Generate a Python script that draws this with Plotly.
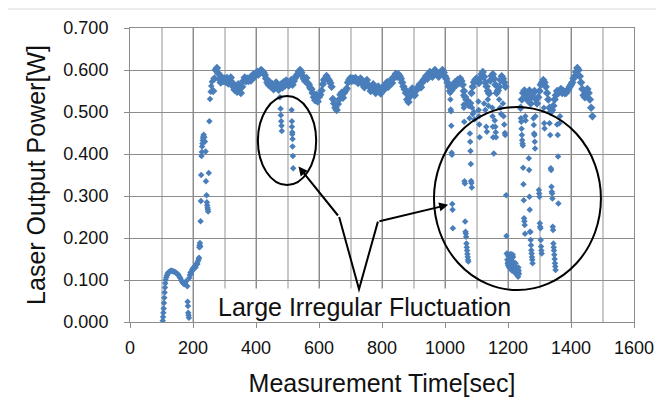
import plotly.graph_objects as go

# ---------------- data ----------------
# Early start-up phase (explicit samples)
EARLY_T = [104, 105, 106, 107, 108, 109, 110, 111, 112, 113, 115, 117, 119, 121, 124, 127, 130, 133,
           136, 139, 142, 145, 148, 151, 154, 157, 160, 163, 166, 169, 172, 175, 178,
           182, 183, 184, 185, 186, 187,
           188, 190, 192, 194, 196, 198, 200, 202, 204, 206, 208, 210, 212, 214, 216, 218, 219,
           220, 221, 222, 223,
           224, 225, 226, 227, 228, 229, 230, 231, 232, 233, 234, 236, 238, 240, 241, 243, 244,
           245, 246, 247, 248, 250, 252, 254, 256, 258, 260]
EARLY_V = [0.003, 0.012, 0.022, 0.032, 0.045, 0.058, 0.070, 0.082, 0.092, 0.100, 0.106, 0.111, 0.114,
           0.117, 0.119, 0.121, 0.122, 0.122, 0.121, 0.120, 0.119, 0.118, 0.116, 0.114, 0.112, 0.108,
           0.104, 0.099, 0.095, 0.092, 0.090, 0.093, 0.097,
           0.085, 0.048, 0.038, 0.022, 0.016, 0.010,
           0.105, 0.112, 0.118, 0.115, 0.120, 0.125, 0.128, 0.126, 0.131, 0.133, 0.130, 0.136, 0.140,
           0.138, 0.145, 0.150, 0.153,
           0.178, 0.183, 0.188, 0.180,
           0.240, 0.288, 0.350, 0.395, 0.405, 0.418, 0.425, 0.432, 0.438, 0.442, 0.446, 0.440, 0.430,
           0.406, 0.335, 0.302, 0.285, 0.278, 0.272, 0.268, 0.263, 0.355, 0.478, 0.531, 0.548, 0.562,
           0.572]

# Main power level, sampled every 4 s from 264 s to 1468 s (None = no sample on the upper band)
BASE_START, BASE_STEP = 264, 4
BASE_V = [
    0.550, 0.580, 0.600, 0.605, 0.592, 0.578, 0.570, 0.582, 0.574, 0.580,
    0.572, 0.581, 0.568, 0.576, 0.582, 0.570, 0.560, 0.553, 0.562, 0.548,
    0.566, 0.555, 0.545, 0.560, 0.574, 0.582, 0.573, 0.580, 0.574, 0.581,
    0.575, 0.586, 0.590, 0.584, 0.591, 0.596, 0.589, 0.595, 0.600, 0.597,
    0.594, 0.588, 0.580, 0.570, 0.565, 0.571, 0.560, 0.566, 0.554, 0.561,
    0.570, 0.559, 0.553, 0.561, 0.566, 0.558, 0.571, 0.563, 0.575, 0.569,
    0.563, 0.571, 0.576, 0.565, 0.574, 0.581, 0.586, 0.590, 0.596, 0.600,
    0.594, 0.586, 0.579, 0.574, 0.581, 0.569, 0.565, 0.558, 0.554, 0.545,
    0.535, 0.528, 0.541, 0.525, 0.536, 0.541, 0.551, 0.566, 0.576, 0.580,
    0.586, 0.579, 0.575, 0.569, 0.560, 0.531, 0.520, 0.510, 0.505, 0.519,
    0.530, 0.541, 0.546, 0.534, 0.546, 0.551, 0.556, 0.570, 0.576, 0.581,
    0.574, 0.580, 0.575, 0.581, 0.574, 0.569, 0.576, 0.580, 0.574, 0.565,
    0.559, 0.570, 0.576, 0.565, 0.560, 0.550, 0.556, 0.566, 0.559, 0.545,
    0.556, 0.561, 0.550, 0.544, 0.555, 0.561, 0.554, 0.566, 0.571, 0.560,
    0.566, 0.576, 0.569, 0.580, 0.586, 0.591, 0.584, 0.590, 0.585, 0.579,
    0.570, 0.561, 0.554, 0.545, 0.530, 0.524, 0.536, 0.550, 0.556, 0.545,
    0.540, 0.551, 0.555, 0.561, 0.566, 0.559, 0.570, 0.576, 0.580, 0.586,
    0.579, 0.590, 0.595, 0.589, 0.584, 0.596, 0.600, 0.594, 0.589, 0.584,
    0.591, 0.596, 0.600, 0.594, 0.585, 0.579, 0.570, 0.561, 0.550, 0.551,
    0.556, 0.566, 0.571, 0.564, 0.576, 0.569, 0.580, 0.574, 0.565, 0.550,
    0.536, 0.529, 0.520, 0.516, 0.521, 0.545, 0.560, 0.571, 0.576, 0.580,
    0.574, 0.569, 0.580, 0.590, 0.595, 0.584, 0.570, 0.561, 0.550, 0.544,
    0.575, 0.586, 0.590, 0.579, 0.565, 0.545, 0.551, 0.560, 0.576, 0.585,
    0.579, 0.570, 0.560, None, None, None, None, None, None, None,
    None, None, None, None, 0.510, 0.530, 0.545, 0.551, 0.540, 0.530,
    0.546, 0.551, 0.520, 0.536, 0.545, 0.550, 0.531, 0.520, 0.535, 0.550,
    0.565, 0.570, 0.576, 0.570, 0.560, 0.545, 0.530, 0.510, 0.500, 0.505,
    0.515, 0.530, 0.540, 0.550, 0.545, 0.550, 0.555, 0.545, 0.550, 0.545,
    0.545, 0.550, 0.555, 0.560, 0.565, 0.570, 0.580, 0.585, 0.595, 0.605,
    0.600, 0.585, 0.570, 0.555, 0.540, 0.535, 0.550, 0.555, 0.545, 0.530,
    0.510, 0.490,
]
BASE_T = [BASE_START + BASE_STEP * i for i in range(len(BASE_V))]

# Sudden drops (irregular fluctuation)
DROP_T = [476, 478, 479, 480, 481, 482,
          513, 514, 514, 515, 515, 516, 516, 517, 518,
          1016, 1017, 1018, 1019, 1020, 1021, 1022, 1023, 1024, 1025,
          1058, 1059, 1060, 1061, 1062, 1063, 1064, 1065, 1066, 1067, 1068, 1069, 1070, 1071, 1072, 1073, 1074,
          1077, 1078, 1079, 1080, 1081, 1082, 1083, 1084, 1085, 1086, 1088,
          1092, 1094, 1106, 1107, 1108, 1109, 1110,
          1124, 1128, 1131, 1133, 1136, 1138,
          1150, 1151, 1152, 1153, 1155, 1158, 1160, 1161, 1162,
          1172, 1175, 1178, 1184, 1186, 1188, 1190, 1191,
          1194, 1195, 1196,
          1198, 1199, 1200, 1201, 1202, 1203, 1204, 1205, 1206, 1207, 1208, 1209, 1210, 1211, 1212, 1213,
          1214, 1215, 1216, 1217, 1218, 1219, 1220, 1221, 1222, 1223, 1224, 1225, 1226, 1227, 1228, 1229,
          1230, 1231, 1232, 1233, 1234, 1235, 1200, 1204, 1209, 1212,
          1241, 1242, 1243, 1244, 1245, 1246, 1247, 1248, 1249, 1250, 1251, 1252, 1253, 1254, 1255, 1256,
          1266, 1267, 1268, 1269, 1270, 1271, 1272, 1273, 1274, 1275, 1276, 1277, 1278,
          1281, 1282, 1283, 1284, 1285, 1286, 1287,
          1298, 1299, 1300, 1301, 1302, 1303, 1304, 1305, 1306, 1307,
          1314, 1315, 1316,
          1332, 1334, 1336, 1337, 1338, 1339, 1340, 1341, 1342, 1343, 1344, 1345, 1346, 1347, 1348, 1349,
          1350, 1351,
          1356, 1358, 1359, 1360, 1363, 1365]
DROP_V = [0.535, 0.508, 0.492, 0.478, 0.467, 0.455,
          0.505, 0.478, 0.465, 0.452, 0.447, 0.436, 0.418, 0.395, 0.366,
          0.545, 0.530, 0.506, 0.502, 0.467, 0.403, 0.398, 0.281, 0.267, 0.223,
          0.540, 0.517, 0.510, 0.477, 0.335, 0.330, 0.239, 0.215, 0.211, 0.203, 0.187, 0.178, 0.170, 0.162,
          0.155, 0.148, 0.144,
          0.521, 0.485, 0.449, 0.429, 0.407, 0.376, 0.336, 0.331, 0.320, 0.510, 0.495,
          0.500, 0.483, 0.525, 0.505, 0.490, 0.470, 0.440,
          0.520, 0.505, 0.465, 0.453, 0.530, 0.515,
          0.510, 0.490, 0.465, 0.440, 0.401, 0.480, 0.465, 0.452, 0.440,
          0.530, 0.510, 0.495, 0.520, 0.490, 0.470, 0.450, 0.445,
          0.302, 0.205, 0.163,
          0.148, 0.140, 0.135, 0.143, 0.150, 0.138, 0.130, 0.142, 0.135, 0.128, 0.140, 0.133, 0.125, 0.138,
          0.130, 0.122, 0.145, 0.160, 0.155, 0.135, 0.128, 0.120, 0.132, 0.125, 0.118, 0.130, 0.140, 0.123,
          0.115, 0.128, 0.120, 0.112, 0.125, 0.118, 0.108, 0.130, 0.122, 0.115, 0.158, 0.160, 0.162, 0.152,
          0.485, 0.477, 0.460, 0.445, 0.433, 0.425, 0.420, 0.367, 0.328, 0.290, 0.247, 0.240, 0.231, 0.210,
          0.490, 0.480,
          0.390, 0.362, 0.298, 0.267, 0.215, 0.214, 0.195, 0.183, 0.171, 0.163, 0.155, 0.148, 0.140,
          0.485, 0.469, 0.449, 0.445, 0.429, 0.413, 0.490,
          0.314, 0.306, 0.298, 0.235, 0.227, 0.223, 0.195, 0.180, 0.170, 0.163,
          0.510, 0.473, 0.461,
          0.473, 0.445, 0.366, 0.362, 0.322, 0.310, 0.306, 0.294, 0.227, 0.219, 0.187, 0.178, 0.170, 0.160,
          0.150, 0.140, 0.132, 0.124,
          0.470, 0.445, 0.394, 0.282, 0.473, 0.490]

X_TICKS = [0, 200, 400, 600, 800, 1000, 1200, 1400, 1600]
Y_TICKS = [0.0, 0.1, 0.2, 0.3, 0.4, 0.5, 0.6, 0.7]

# annotation geometry (data coordinates)
ELLIPSE_LEFT = dict(x0=406, x1=591, y0=0.326, y1=0.538)
ELLIPSE_RIGHT = dict(x0=965, x1=1495, y0=0.076, y1=0.512)
ARROW_LEFT_HEAD, ARROW_LEFT_TAIL = (535, 0.370), (664, 0.250)
ARROW_BOTTOM = (727, 0.078)
ARROW_RIGHT_HEAD, ARROW_RIGHT_TAIL = (1010, 0.279), (787, 0.239)
LABEL_POS = (746, 0.036)
LABEL_BOX = dict(x0=241, x1=1356, y0=-0.0025, y1=0.08)

BLUE = "#4A7EBB"
GRID = "#8c8c8c"
FONT = "Liberation Sans, Arial, sans-serif"

fig = go.Figure()
marker = dict(symbol="diamond", size=5, color=BLUE, line=dict(width=0))
base_marker = dict(symbol="diamond", size=6.5, color=BLUE, line=dict(width=0))
fig.add_trace(go.Scatter(x=EARLY_T, y=EARLY_V, mode="markers", marker=marker, showlegend=False))
fig.add_trace(go.Scatter(x=BASE_T, y=BASE_V, mode="markers", marker=base_marker, showlegend=False))
fig.add_trace(go.Scatter(x=DROP_T, y=DROP_V, mode="markers", marker=marker, showlegend=False))

shapes = [
    # outer chart border
    dict(type="rect", xref="paper", yref="paper", x0=-0.248, x1=1.07, y0=-0.32, y1=1.0646,
         line=dict(color="#d9d9d9", width=1), fillcolor="rgba(0,0,0,0)", layer="below"),
    # white box behind the label
    dict(type="rect", xref="x", yref="y", **LABEL_BOX, fillcolor="white",
         line=dict(width=0), layer="above"),
    dict(type="circle", xref="x", yref="y", **ELLIPSE_LEFT, line=dict(color="black", width=2), layer="above"),
    dict(type="circle", xref="x", yref="y", **ELLIPSE_RIGHT, line=dict(color="black", width=2), layer="above"),
    dict(type="path", xref="x", yref="y",
         path=f"M {ARROW_LEFT_TAIL[0]},{ARROW_LEFT_TAIL[1]} L {ARROW_BOTTOM[0]},{ARROW_BOTTOM[1]} "
              f"L {ARROW_RIGHT_TAIL[0]},{ARROW_RIGHT_TAIL[1]}",
         line=dict(color="black", width=2), layer="above"),
]

annotations = [
    dict(x=ARROW_LEFT_HEAD[0], y=ARROW_LEFT_HEAD[1], ax=ARROW_LEFT_TAIL[0], ay=ARROW_LEFT_TAIL[1],
         xref="x", yref="y", axref="x", ayref="y", text="", showarrow=True,
         arrowhead=2, arrowsize=0.9, arrowwidth=2, arrowcolor="black"),
    dict(x=ARROW_RIGHT_HEAD[0], y=ARROW_RIGHT_HEAD[1], ax=ARROW_RIGHT_TAIL[0], ay=ARROW_RIGHT_TAIL[1],
         xref="x", yref="y", axref="x", ayref="y", text="", showarrow=True,
         arrowhead=2, arrowsize=0.9, arrowwidth=2, arrowcolor="black"),
    dict(x=LABEL_POS[0], y=LABEL_POS[1], xref="x", yref="y", text="Large Irregular Fluctuation",
         showarrow=False, font=dict(family=FONT, size=25, color="#111111")),
]

# the page body has an 8px margin, so the figure is 8px smaller than the window
fig.update_layout(
    width=656, height=404,
    margin=dict(l=122, r=30, t=20, b=90, autoexpand=False),
    paper_bgcolor="white", plot_bgcolor="white",
    font=dict(family=FONT, color="#111111"),
    shapes=shapes, annotations=annotations,
    xaxis=dict(range=[0, 1600], tickvals=X_TICKS, ticktext=[str(v) for v in X_TICKS],
               automargin=False,
               showgrid=True, gridcolor=GRID, gridwidth=1,
               minor=dict(dtick=100, showgrid=True, gridcolor="#c9c9c9", gridwidth=1.5, ticks=""),
               showline=True, linecolor=GRID, linewidth=1, mirror=True,
               ticks="outside", ticklen=5, tickcolor=GRID, zeroline=False,
               ticklabelstandoff=4,
               tickfont=dict(size=18, family=FONT, color="#111111"),
               title=dict(text="Measurement Time[sec]", font=dict(size=25, family=FONT, color="#111111"),
                          standoff=17)),
    yaxis=dict(range=[0, 0.7], tickvals=Y_TICKS, tickformat=".3f",
               automargin=False,
               showgrid=True, gridcolor=GRID, gridwidth=1,
               showline=True, linecolor=GRID, linewidth=1, mirror=True,
               ticks="outside", ticklen=5, tickcolor=GRID, zeroline=False,
               ticklabelstandoff=12,
               tickfont=dict(size=18, family=FONT, color="#111111"),
               title=dict(text="Laser Output Power[W]", font=dict(size=25, family=FONT, color="#111111"),
                          standoff=10)),
)

fig.write_html("out.html")
